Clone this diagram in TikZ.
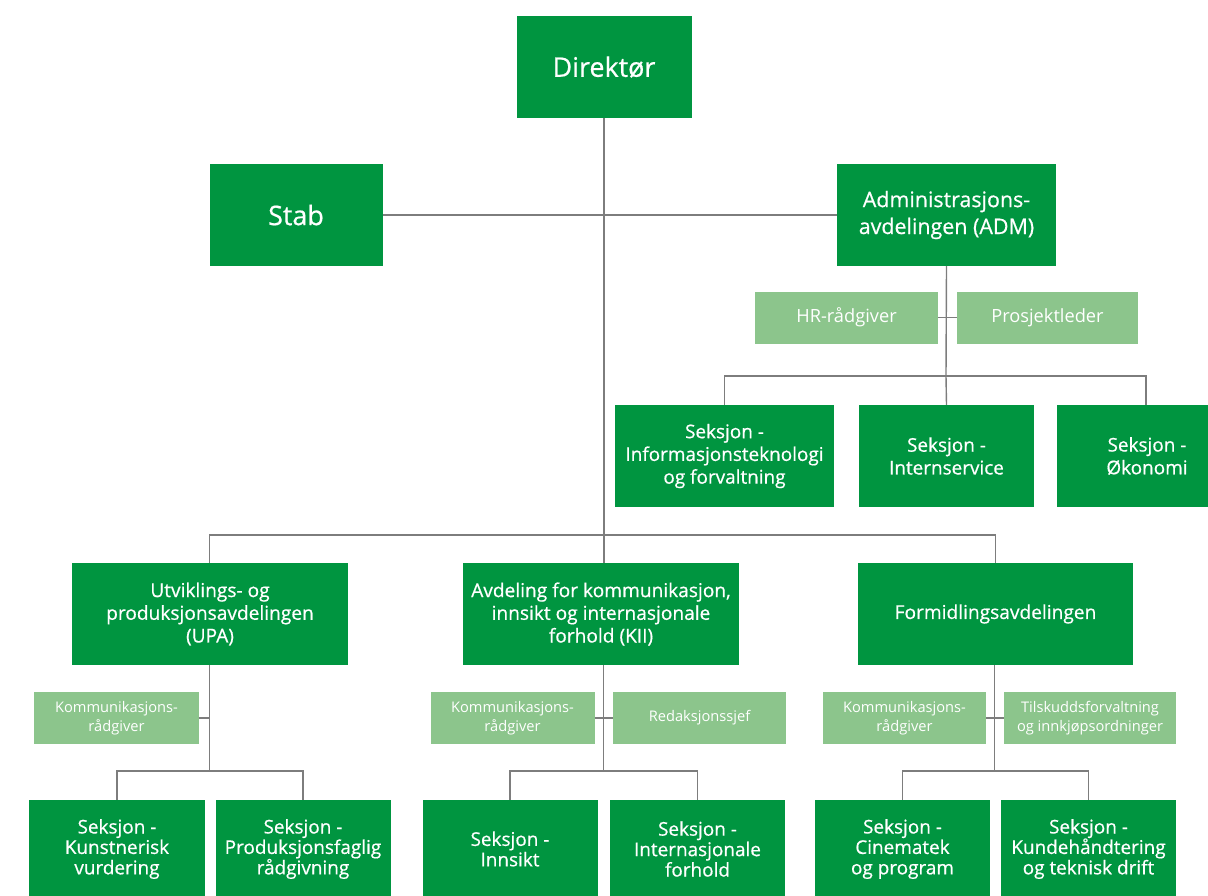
\documentclass[tikz,border=0pt]{standalone}
\usepackage{fontspec}
\setmainfont{Open Sans}[BoldFont={Open Sans}, BoldFeatures={FakeBold=0.6}]
\definecolor{dg}{RGB}{0,149,64}
\definecolor{lg}{RGB}{140,197,140}
\definecolor{ln}{RGB}{125,125,125}
\begin{document}
\begin{tikzpicture}[x=1bp,y=-1bp,
  box/.style={fill=dg,text=white,inner sep=0pt,align=center,minimum height=102bp},
  lbox/.style={fill=lg,text=white,inner sep=0pt,align=center,minimum height=52bp},
  big/.style={font=\fontsize{27}{30}\selectfont\bfseries},
  adm/.style={font=\fontsize{21.5}{27}\selectfont\bfseries},
  dept/.style={font=\fontsize{19.2}{22.8}\selectfont\bfseries},
  sectop/.style={font=\fontsize{19}{22.8}\selectfont\bfseries},
  sec/.style={font=\fontsize{19}{20.5}\selectfont\bfseries,minimum height=98bp},
  lmid/.style={font=\fontsize{18.3}{20}\selectfont},
  lsmall/.style={font=\fontsize{14.7}{19}\selectfont},
  conn/.style={draw=ln,line width=1.4bp}]
\useasboundingbox (0,0) rectangle (1208,896);
\clip (0,0) rectangle (1208,896);
% top
\node[box,big,minimum width=175bp] (dir) at (604,67) {Direktør};
\node[box,big,minimum width=173bp] (stab) at (296,215) {Stab};
\node[box,adm,minimum width=219bp] (admn) at (946.5,215) {Administrasjons-\\avdelingen (ADM)};
\node[lbox,lmid,minimum width=183bp] (hr) at (846.5,317.5) {HR-rådgiver};
\node[lbox,lmid,minimum width=181bp] (pl) at (1047.5,317.5) {Prosjektleder};
\node[box,sectop,minimum width=219bp] (it) at (724.5,456) {Seksjon -\\Informasjonsteknologi\\og forvaltning};
\node[box,sectop,minimum width=175bp] (intern) at (946.5,456) {Seksjon -\\Internservice};
\node[box,sectop,minimum width=180bp] (oko) at (1147,456) {Seksjon -\\Økonomi};
% departments
\node[box,dept,minimum width=276bp] (upa) at (210,614) {Utviklings- og\\produksjonsavdelingen\\(UPA)};
\node[box,dept,minimum width=276bp] (kii) at (601,614) {Avdeling for kommunikasjon,\\innsikt og internasjonale\\forhold (KII)};
\node[box,dept,minimum width=275bp] (form) at (995.5,614) {Formidlingsavdelingen};
% light boxes
\node[lbox,lsmall,minimum width=164bp] (upak) at (116.5,718) {Kommunikasjons-\\rådgiver};
\node[lbox,lsmall,minimum width=164bp] (kiik) at (512.5,718) {Kommunikasjons-\\rådgiver};
\node[lbox,lsmall,minimum width=173bp] (red) at (699.5,718) {Redaksjonssjef};
\node[lbox,lsmall,minimum width=163bp] (formk) at (904.5,718) {Kommunikasjons-\\rådgiver};
\node[lbox,lsmall,minimum width=172bp] (tilsk) at (1090,718) {Tilskuddsforvaltning\\og innkjøpsordninger};
% sections (boxes run past the lower edge)
\node[box,sec,minimum width=175bp] (s1) at (117,849) {Seksjon -\\Kunstnerisk\\vurdering};
\node[box,sec,minimum width=175bp] (s2) at (303,849) {Seksjon -\\Produksjonsfaglig\\rådgivning};
\node[box,sec,minimum width=175bp] (s3) at (510,849) {Seksjon -\\Innsikt};
\node[box,sec,minimum width=175bp] (s4) at (697.5,849) {Seksjon -\\Internasjonale\\forhold};
\node[box,sec,minimum width=175bp] (s5) at (902.5,849) {Seksjon -\\Cinematek\\og program};
\node[box,sec,minimum width=175bp] (s6) at (1088.5,849) {Seksjon -\\Kundehåndtering\\og teknisk drift};
% junction coordinates
\coordinate (mainx) at (604,535);
\coordinate (admx) at (946,376);
\coordinate (upax) at (209.5,771);
\coordinate (kiix) at (603.5,771);
\coordinate (formx) at (994.5,771);
% connectors
\draw[conn] (dir.south) -- (mainx);
\draw[conn] (stab.east) -- (admn.west);
\draw[conn] (admn.south) -- (admx) -- (intern.north);
\draw[conn] (hr.east) -- (pl.west);
\draw[conn] (it.north) -- (it.north |- admx) -- (1146,376) -- (1146,405);
\draw[conn] (upa.north -| upax) -- (upax |- mainx) -- (form.north |- mainx) -- (form.north);
\draw[conn] (mainx) -- (mainx |- kii.north);
% UPA
\draw[conn] (upa.south -| upax) -- (upax);
\draw[conn] (upak.east) -- (upak.east -| upax);
\draw[conn] (s1.north) -- (s1.north |- upax) -- (s2.north |- upax) -- (s2.north);
% KII
\draw[conn] (kii.south -| kiix) -- (kiix);
\draw[conn] (kiik.east) -- (red.west);
\draw[conn] (s3.north) -- (s3.north |- kiix) -- (s4.north |- kiix) -- (s4.north);
% Formidling
\draw[conn] (form.south -| formx) -- (formx);
\draw[conn] (formk.east) -- (tilsk.west);
\draw[conn] (s5.north) -- (s5.north |- formx) -- (s6.north |- formx) -- (s6.north);
\end{tikzpicture}
\end{document}
